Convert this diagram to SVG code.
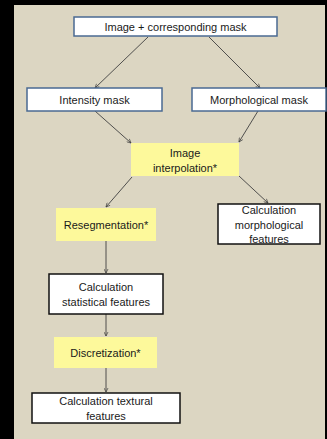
<svg xmlns="http://www.w3.org/2000/svg" width="327" height="439" viewBox="0 0 327 439">
<style>
.t{font-family:"Liberation Sans",Arial,sans-serif;font-size:11px;fill:#1a1a1a;text-anchor:middle}
.blue{fill:#ffffff;stroke:#4a6a92;stroke-width:1.5}
.blk{fill:#ffffff;stroke:#111111;stroke-width:1.5}
.yel{fill:#fdf99b;stroke:none}
.c{stroke:#404040;stroke-width:0.9;fill:none;marker-end:url(#ah)}
</style>
<defs>
<marker id="ah" viewBox="0 0 10 10" refX="9" refY="5" markerWidth="5" markerHeight="5" orient="auto" markerUnits="userSpaceOnUse">
<path d="M1,1 L9,5 L1,9" fill="none" stroke="#404040" stroke-width="1.4"/>
</marker>
</defs>
<rect x="0" y="0" width="327" height="439" fill="#000"/>
<rect x="14" y="5" width="311" height="434" fill="#dcd6c2"/>
<g id="connectors">
<line class="c" x1="148" y1="37" x2="95" y2="88"/>
<line class="c" x1="209" y1="37" x2="260" y2="88"/>
<line class="c" x1="95" y1="111" x2="131" y2="143"/>
<line class="c" x1="258" y1="111" x2="239" y2="142"/>
<line class="c" x1="132" y1="177" x2="106" y2="207"/>
<line class="c" x1="239" y1="176" x2="268" y2="203"/>
<line class="c" x1="106" y1="241" x2="106" y2="273"/>
<line class="c" x1="106" y1="314" x2="106" y2="336"/>
<line class="c" x1="106" y1="368" x2="106" y2="392"/>
</g>
<g id="image-mask">
<rect class="blue" x="74" y="17" width="203" height="19"/>
<text class="t" x="175.5" y="30.5">Image + corresponding mask</text>
</g>
<g id="intensity-mask">
<rect class="blue" x="27" y="88" width="135" height="23"/>
<text class="t" x="94.5" y="103.5">Intensity mask</text>
</g>
<g id="morphological-mask">
<rect class="blue" x="192" y="88" width="134" height="23"/>
<text class="t" x="259" y="103.5">Morphological mask</text>
</g>
<g id="image-interpolation">
<rect class="yel" x="131" y="143" width="108" height="33"/>
<text class="t" x="185" y="157">Image</text>
<text class="t" x="185" y="171.5">interpolation*</text>
</g>
<g id="resegmentation">
<rect class="yel" x="56" y="208" width="100" height="33"/>
<text class="t" x="106" y="228.5">Resegmentation*</text>
</g>
<g id="calc-morphological">
<rect class="blk" x="218" y="204" width="102" height="40"/>
<text class="t" x="269" y="214">Calculation</text>
<text class="t" x="269" y="228.5">morphological</text>
<text class="t" x="269" y="243">features</text>
</g>
<g id="calc-statistical">
<rect class="blk" x="49" y="274" width="114" height="40"/>
<text class="t" x="106" y="291">Calculation</text>
<text class="t" x="106" y="306">statistical  features</text>
</g>
<g id="discretization">
<rect class="yel" x="54" y="337" width="103" height="31"/>
<text class="t" x="105.5" y="356.5">Discretization*</text>
</g>
<g id="calc-textural">
<rect class="blk" x="32" y="393" width="148" height="30"/>
<text class="t" x="106" y="405">Calculation textural</text>
<text class="t" x="106" y="420">features</text>
</g>
</svg>
